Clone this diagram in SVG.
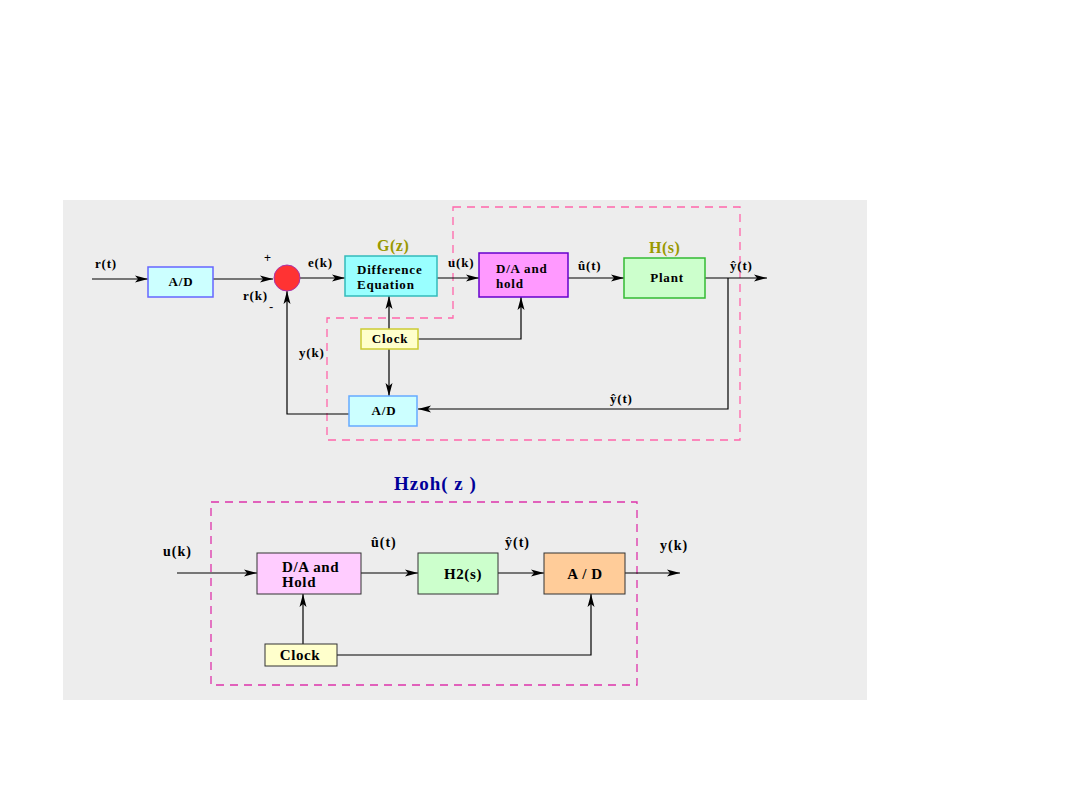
<svg xmlns="http://www.w3.org/2000/svg" width="1080" height="810" viewBox="0 0 1080 810">
<defs>
<marker id="ah" markerUnits="userSpaceOnUse" markerWidth="14" markerHeight="8" refX="13" refY="4" orient="auto">
<path d="M0,0.5 L13,4 L0,7.5 L3,4 z" fill="#000"/>
</marker>
</defs>
<style>
.lbl{font-family:"Liberation Serif",serif;font-weight:bold;font-size:13px;letter-spacing:0.8px;fill:#000}
.btx{font-family:"Liberation Serif",serif;font-weight:bold;font-size:13px;letter-spacing:0.8px;fill:#000}
.btx2{font-family:"Liberation Serif",serif;font-weight:bold;font-size:15px;letter-spacing:0.6px;fill:#000}
.lbl2{font-family:"Liberation Serif",serif;font-weight:bold;font-size:14px;letter-spacing:1px;fill:#000}
.ttl{font-family:"Liberation Serif",serif;font-weight:bold;font-size:16px;letter-spacing:0.5px;fill:#999900}
.conn{fill:none;stroke:#000;stroke-width:1.2;marker-end:url(#ah)}
.dash1{fill:none;stroke:#ff66aa;stroke-width:1.3;stroke-dasharray:8,6}
.dash2{fill:none;stroke:#dd33aa;stroke-width:1.3;stroke-dasharray:8,6}
</style>
<rect x="0" y="0" width="1080" height="810" fill="#fff"/>
<rect x="63" y="200" width="804" height="500" fill="#ededed"/>

<g id="regions">
<path class="dash1" d="M453,207 L740,207 L740,440 L327,440 L327,318 L453,318 Z"/>
<rect class="dash2" x="211" y="502" width="426" height="183"/>
</g>

<g id="connectors">
<path class="conn" d="M92,279 L148,279"/>
<path class="conn" d="M213,279 L273,279"/>
<path class="conn" d="M300,278 L345,278"/>
<path class="conn" d="M437,278 L479,278"/>
<path class="conn" d="M568,278 L624,278"/>
<path class="conn" d="M705,278 L767,278"/>
<path class="conn" d="M728,278 L728,409 L418,409"/>
<path class="conn" d="M349,414 L287,414 L287,291"/>
<path class="conn" d="M389,329 L389,296"/>
<path class="conn" d="M389,349 L389,396"/>
<path class="conn" d="M418,339 L521,339 L521,297"/>
<path class="conn" d="M177,573 L257,573"/>
<path class="conn" d="M361,573 L418,573"/>
<path class="conn" d="M498,573 L544,573"/>
<path class="conn" d="M625,573 L680,573"/>
<path class="conn" d="M303,644 L303,594"/>
<path class="conn" d="M337,655 L591,655 L591,594"/>
</g>

<g id="ad1">
<rect x="148" y="267" width="65" height="30" fill="#ccffff" stroke="#6666ff" stroke-width="1.5"/>
<text class="btx" x="181" y="286" text-anchor="middle">A/D</text>
</g>
<g id="sum">
<circle cx="287" cy="278" r="13" fill="#ff3333" stroke="#aa33aa" stroke-width="1"/>
</g>
<g id="diffeq">
<rect x="345" y="256" width="92" height="40" fill="#99ffff" stroke="#33bbbb" stroke-width="1.5"/>
<text class="btx" x="357" y="274">Difference</text>
<text class="btx" x="357" y="289">Equation</text>
</g>
<g id="dahold">
<rect x="479" y="253" width="89" height="44" fill="#ff99ff" stroke="#6600cc" stroke-width="1.5"/>
<text class="btx" x="496" y="273">D/A  and</text>
<text class="btx" x="496" y="288">hold</text>
</g>
<g id="plant">
<rect x="624" y="258" width="81" height="40" fill="#ccffcc" stroke="#33bb33" stroke-width="1.5"/>
<text class="btx" x="667" y="282" text-anchor="middle">Plant</text>
</g>
<g id="clock1">
<rect x="361" y="329" width="57" height="20" fill="#ffffcc" stroke="#cccc33" stroke-width="1.5"/>
<text class="btx" x="390" y="343" text-anchor="middle">Clock</text>
</g>
<g id="ad2">
<rect x="349" y="396" width="68" height="30" fill="#ccffff" stroke="#66aaff" stroke-width="1.5"/>
<text class="btx" x="384" y="415" text-anchor="middle">A/D</text>
</g>

<g id="labels-top">
<text class="lbl" x="95" y="268">r(t)</text>
<text x="264" y="262" font-family="Liberation Sans,sans-serif" font-size="12" fill="#000">+</text>
<text class="lbl" x="243" y="300">r(k)</text>
<text x="269" y="311" font-family="Liberation Sans,sans-serif" font-size="13" fill="#000">-</text>
<text class="lbl" x="308" y="267">e(k)</text>
<text class="ttl" x="377" y="251">G(z)</text>
<text class="lbl" x="448" y="267">u(k)</text>
<text class="ttl" x="649" y="253">H(s)</text>
<text class="lbl" x="578" y="270">û(t)</text>
<text class="lbl" x="730" y="270">ŷ(t)</text>
<text class="lbl" x="299" y="357">y(k)</text>
<text class="lbl" x="610" y="403">ŷ(t)</text>
</g>

<g id="title-bottom">
<text x="394" y="490" font-family="Liberation Serif,serif" font-weight="bold" font-size="19" letter-spacing="1" fill="#000099">Hzoh( z )</text>
</g>
<g id="dah2">
<rect x="257" y="553" width="104" height="41" fill="#ffccff" stroke="#333" stroke-width="1"/>
<text class="btx2" x="282" y="572">D/A and</text>
<text class="btx2" x="282" y="587">Hold</text>
</g>
<g id="h2s">
<rect x="418" y="553" width="80" height="41" fill="#ccffcc" stroke="#333" stroke-width="1"/>
<text class="btx2" x="463" y="579" text-anchor="middle">H2(s)</text>
</g>
<g id="ad3">
<rect x="544" y="553" width="81" height="41" fill="#ffcc99" stroke="#333" stroke-width="1"/>
<text class="btx2" x="585" y="579" text-anchor="middle">A / D</text>
</g>
<g id="clock2">
<rect x="265" y="644" width="72" height="22" fill="#ffffcc" stroke="#333" stroke-width="1"/>
<text class="btx2" x="300" y="660" text-anchor="middle">Clock</text>
</g>
<g id="labels-bottom">
<text class="lbl2" x="163" y="556">u(k)</text>
<text class="lbl2" x="371" y="547">û(t)</text>
<text class="lbl2" x="505" y="547">ŷ(t)</text>
<text class="lbl2" x="660" y="550">y(k)</text>
</g>
</svg>
